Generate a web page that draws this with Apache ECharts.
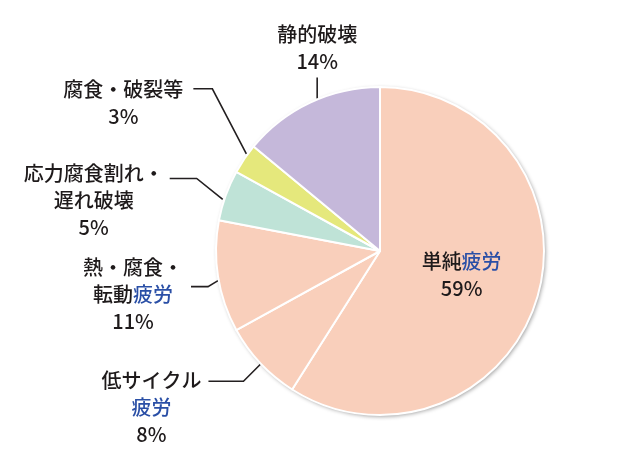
<!DOCTYPE html>
<html><head><meta charset="utf-8">
<script src="https://cdn.jsdelivr.net/npm/echarts@6/dist/echarts.min.js"></script>
<style>html,body{margin:0;padding:0;background:#fff}#c{width:620px;height:459px}</style>
</head><body><div id="c"></div>
<script>
// ---- data ----
const categories = ['単純疲労', '低サイクル疲労', '熱・腐食・転動疲労', '応力腐食割れ・遅れ破壊', '腐食・破裂等', '静的破壊'];
const values = [59, 8, 11, 5, 3, 14];
const labelTexts = [
  '{a|単純}{b|疲労}\n{a|59%}',
  '{a|低サイクル}\n{b|疲労}\n{a|8%}',
  '{a|熱・腐食・}\n{a|転動}{b|疲労}\n{a|11%}',
  '{a|応力腐食割れ・}\n{a|遅れ破壊}\n{a|5%}',
  '{a|腐食・破裂等}\n{a|3%}',
  '{a|静的破壊}\n{a|14%}'
];

// ---- styles / layout ----
const colors = ['#f9cfbb', '#f9cfbb', '#f9cfbb', '#bfe3d7', '#e5e87c', '#c5b8da'];
const FONT = '"Noto Sans CJK JP", "Noto Sans", sans-serif';
const LH = 27;
const adjust = [
  null,
  { start: [0, 1], elbow: [-17, 17], run: -35, gap: 7, dy: -1 },
  { start: [0, 4], elbow: [-10, 6], run: -17, gap: 8, dy: -19 },
  { start: [-3, 4], elbow: [-26, -21], run: -27, gap: 6, dy: -5 },
  { start: [2, -5], elbow: [-34, -65], run: -19, gap: 10, dy: 1 },
  { start: [7, -4], elbow: [0, -21], run: 0, gap: 3, top: true }
];

const total = values.reduce((s, v) => s + v, 0);
const chart = echarts.init(document.getElementById('c'), null, { renderer: 'canvas' });

const data = categories.map((name, i) => ({
  name: name,
  value: values[i],
  itemStyle: { color: colors[i] },
  label: i === 0 ? { position: 'inside' } : { position: 'outside' },
  labelLine: { show: i !== 0 }
}));

chart.setOption({
  animation: false,
  backgroundColor: '#ffffff',
  series: [
    {
      type: 'pie',
      silent: true,
      center: [380, 251],
      radius: 164,
      z: 1,
      label: { show: false },
      labelLine: { show: false },
      itemStyle: {
        color: '#f9cfbb',
        shadowBlur: 4,
        shadowColor: 'rgba(0,0,0,0.4)',
        shadowOffsetX: 1.5,
        shadowOffsetY: 1.5
      },
      data: [{ value: total, name: 'bg' }]
    },
    {
      type: 'pie',
      z: 2,
      center: [380, 251],
      radius: 164,
      startAngle: 90,
      clockwise: true,
      avoidLabelOverlap: false,
      itemStyle: { borderColor: '#ffffff', borderWidth: 2 },
      label: {
        show: true,
        formatter: (p) => labelTexts[p.dataIndex],
        fontFamily: FONT,
        fontSize: 20,
        fontWeight: 500,
        color: '#1e1a1b',
        lineHeight: LH,
        rich: {
          a: { fontFamily: FONT, fontSize: 20, fontWeight: 500, color: '#1e1a1b', lineHeight: LH, align: 'center' },
          b: { fontFamily: FONT, fontSize: 20, fontWeight: 500, color: '#2a4fa6', lineHeight: LH, align: 'center' }
        }
      },
      labelLine: {
        show: true,
        length: 12,
        length2: 12,
        lineStyle: { color: '#231f20', width: 1.6 }
      },
      labelLayout: function (p) {
        const a = adjust[p.dataIndex];
        if (!a || !p.labelLinePoints) return {};
        const p0 = p.labelLinePoints[0];
        const s = [p0[0] + a.start[0], p0[1] + a.start[1]];
        const e = [s[0] + a.elbow[0], s[1] + a.elbow[1]];
        if (a.top) {
          return {
            x: e[0], y: e[1] - a.gap,
            align: 'center', verticalAlign: 'bottom',
            labelLinePoints: [s, e]
          };
        }
        const t = [e[0] + a.run, e[1]];
        return {
          x: t[0] - a.gap,
          y: t[1] + a.dy - LH / 2,
          align: 'right', verticalAlign: 'top',
          labelLinePoints: [s, e, t]
        };
      },
      data: data
    }
  ]
});
</script>
</body></html>
